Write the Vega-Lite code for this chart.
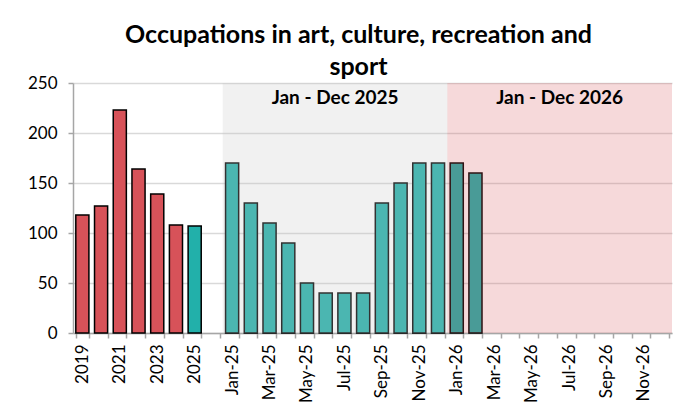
{
  "$schema": "https://vega.github.io/schema/vega-lite/v6.json",
  "width": 599,
  "height": 250,
  "autosize": {"type": "none"},
  "padding": {"left": 73, "top": 83, "right": 26, "bottom": 83},
  "background": "white",
  "title": {
    "text": ["Occupations in art, culture, recreation and", "sport"],
    "font": "Lato",
    "fontSize": 25,
    "fontWeight": "bold",
    "color": "#000000",
    "lineHeight": 32,
    "anchor": "middle",
    "frame": "group",
    "dx": -14,
    "offset": -6
  },
  "datasets": {
    "bars": [
      {"period": "2019", "value": 118, "group": "past"},
      {"period": "2020", "value": 127, "group": "past"},
      {"period": "2021", "value": 223, "group": "past"},
      {"period": "2022", "value": 164, "group": "past"},
      {"period": "2023", "value": 139, "group": "past"},
      {"period": "2024", "value": 108, "group": "past"},
      {"period": "2025", "value": 107, "group": "current"},
      {"period": "Jan-25", "value": 170, "group": "current"},
      {"period": "Feb-25", "value": 130, "group": "current"},
      {"period": "Mar-25", "value": 110, "group": "current"},
      {"period": "Apr-25", "value": 90, "group": "current"},
      {"period": "May-25", "value": 50, "group": "current"},
      {"period": "Jun-25", "value": 40, "group": "current"},
      {"period": "Jul-25", "value": 40, "group": "current"},
      {"period": "Aug-25", "value": 40, "group": "current"},
      {"period": "Sep-25", "value": 130, "group": "current"},
      {"period": "Oct-25", "value": 150, "group": "current"},
      {"period": "Nov-25", "value": 170, "group": "current"},
      {"period": "Dec-25", "value": 170, "group": "current"},
      {"period": "Jan-26", "value": 170, "group": "current"},
      {"period": "Feb-26", "value": 160, "group": "current"}
    ],
    "regions": [
      {"label": "Jan - Dec 2025", "start": "Jan-25", "end": "Dec-25", "mid": "Jun-25", "kind": "gray"},
      {"label": "Jan - Dec 2026", "start": "Jan-26", "end": "Dec-26", "mid": "Jun-26", "kind": "pink"}
    ]
  },
  "encoding": {
    "x": {
      "field": "period",
      "type": "nominal",
      "sort": null,
      "title": null,
      "scale": {
        "domain": ["2019","2020","2021","2022","2023","2024","2025"," ",
          "Jan-25","Feb-25","Mar-25","Apr-25","May-25","Jun-25","Jul-25","Aug-25","Sep-25","Oct-25","Nov-25","Dec-25",
          "Jan-26","Feb-26","Mar-26","Apr-26","May-26","Jun-26","Jul-26","Aug-26","Sep-26","Oct-26","Nov-26","Dec-26"],
        "paddingInner": 0.3,
        "paddingOuter": 0.15
      },
      "axis": {
        "labelAngle": -90,
        "labelFont": "Lato",
        "labelFontSize": 17,
        "labelColor": "#000000",
        "labelPadding": 6,
        "tickSize": 5,
        "tickBand": "extent",
        "tickColor": "#a6a6a6",
        "tickWidth": 1.5,
        "domainColor": "#a6a6a6",
        "domainWidth": 1.5,
        "labelExpr": "indexof(['2020','2022','2024',' ','Feb-25','Apr-25','Jun-25','Aug-25','Oct-25','Dec-25','Feb-26','Apr-26','Jun-26','Aug-26','Oct-26','Dec-26'], datum.value) >= 0 ? '' : datum.label"
      }
    }
  },
  "layer": [
    {
      "data": {"name": "bars"},
      "mark": {"type": "bar", "stroke": "#000000", "strokeWidth": 1.5},
      "encoding": {
        "y": {
          "field": "value",
          "type": "quantitative",
          "title": null,
          "scale": {"domain": [0, 250], "nice": false},
          "axis": {
            "values": [0, 50, 100, 150, 200, 250],
            "labelFont": "Lato",
            "labelFontSize": 17,
            "labelColor": "#000000",
            "labelPadding": 11,
            "tickSize": 5,
            "tickColor": "#a6a6a6",
            "tickWidth": 1.5,
            "domainColor": "#a6a6a6",
            "domainWidth": 1.5,
            "grid": true,
            "gridColor": "#d9d9d9",
            "gridWidth": 1.5
          }
        },
        "color": {
          "field": "group",
          "type": "nominal",
          "legend": null,
          "scale": {"domain": ["past", "current"], "range": ["#d75259", "#22b0aa"]}
        }
      }
    },
    {
      "data": {"name": "regions"},
      "mark": {"type": "rect"},
      "encoding": {
        "x": {"field": "start", "type": "nominal", "bandPosition": -0.2143},
        "x2": {"field": "end", "bandPosition": 1.2143},
        "color": {
          "field": "kind",
          "type": "nominal",
          "legend": null,
          "scale": {"domain": ["gray", "pink"], "range": ["#c8c8c8", "#d65458"]}
        },
        "opacity": {
          "field": "kind",
          "type": "nominal",
          "legend": null,
          "scale": {"domain": ["gray", "pink"], "range": [0.25, 0.22]}
        }
      }
    },
    {
      "data": {"name": "regions"},
      "mark": {"type": "text", "font": "Lato", "fontSize": 19, "fontWeight": "bold", "color": "#000000", "align": "center", "baseline": "middle"},
      "encoding": {
        "x": {"field": "mid", "type": "nominal", "bandPosition": 1.2143},
        "y": {"datum": 235, "type": "quantitative"},
        "text": {"field": "label"}
      }
    }
  ],
  "resolve": {"scale": {"color": "independent"}},
  "config": {
    "view": {"stroke": null}
  }
}
